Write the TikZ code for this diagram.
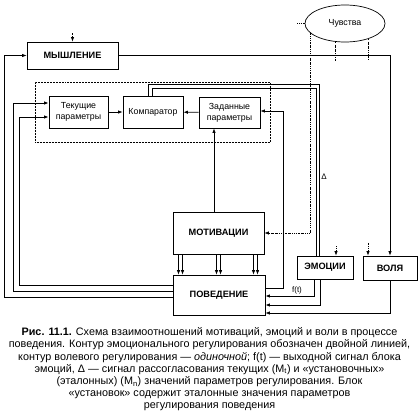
\documentclass[tikz,border=0pt]{standalone}
\usepackage{fontspec}
\setmainfont{Liberation Sans}
\usetikzlibrary{arrows.meta,shapes.geometric}

\begin{document}
\begin{tikzpicture}[x=1pt, y=-1pt, line width=0.7pt,
  >={Latex[length=4.5pt,width=3.4pt]},
  blk/.style={draw, font=\fontsize{9.2}{10}\selectfont\bfseries, inner sep=0pt},
  sml/.style={draw, font=\fontsize{8.8}{10.8}\selectfont, align=center, inner sep=0pt},
  dbl/.style={line width=1pt},
  sig/.style={dash pattern=on 1.6pt off 1.1pt on 0.5pt off 1.1pt},
  dotbox/.style={draw, densely dotted, line width=0.5pt, inner sep=0pt}]
\useasboundingbox (0,0) rectangle (419,412);
% blocks
\node[dotbox, minimum width=235pt, minimum height=60pt] (ust) at (152.5,112) {};
\node[blk, minimum width=91pt, minimum height=27pt] (myshl) at (72.5,55.5) {МЫШЛЕНИЕ};
\node[sml, minimum width=59pt, minimum height=32pt] (tek) at (78.5,112) {Текущие\\параметры};
\node[sml, minimum width=60pt, minimum height=32pt] (komp) at (153,112) {Компаратор};
\node[sml, minimum width=61pt, minimum height=31pt] (zad) at (229.5,112.5) {Заданные\\параметры};
\node[blk, minimum width=91pt, minimum height=42pt] (motiv) at (218.5,233) {МОТИВАЦИИ};
\node[blk, minimum width=92pt, minimum height=40pt] (povel) at (219,295) {ПОВЕДЕНИЕ};
\node[blk, minimum width=56pt, minimum height=23pt] (emoc) at (325,267.5) {ЭМОЦИИ};
\node[blk, minimum width=54pt, minimum height=24pt] (volya) at (390,268) {ВОЛЯ};
\node[draw, ellipse, inner sep=0pt, minimum width=80pt, minimum height=37pt,
  font=\fontsize{8.8}{10}\selectfont] (chuv) at (345,23.5) {Чувства};
% inside
\draw[->] (tek) -- (komp);
\draw[->] (zad) -- (komp);
\draw[->] ([xshift=-4.5pt]motiv.north) -- ([xshift=-4.5pt]motiv.north |- zad.south);
\foreach \dx in {-40,-36,-2,2,35,39}
  \draw[->] ([xshift=\dx pt]motiv.south) -- ([xshift=\dx pt]motiv.south |- povel.north);
\draw[->] ([yshift=7pt]povel.east) -- ++(18,0) |- ([yshift=1.5pt]zad.east);
% volevoj kontur
\draw[->] ([yshift=-2pt]povel.west) -- ++(-168,0) |- (myshl.west);
\draw[->] (myshl.east) -| (volya.north);
\draw[->] (volya.south) |- ([yshift=-18pt]povel.east);
% emocionalnyj kontur
\draw[dbl,->] ([yshift=4pt]povel.west) -- ++(-159,0) |- ([yshift=9pt]tek.west);
\draw[dbl,->] ([yshift=10pt]povel.west) -- ++(-153,0) |- ([yshift=-5pt]tek.west);
\draw[dbl] ([xshift=-5pt]komp.north) -- ++(0,-11) -| ([xshift=-6pt]emoc.north);
\draw[dbl] ([xshift=-1pt]komp.north) -- ++(0,-7) -| ([xshift=-9pt]emoc.north);
\draw[dbl,->] ([xshift=-11pt]emoc.south) |- ([yshift=-1pt]povel.east);
\draw[dbl,->] ([xshift=-5pt]emoc.south) |- ([yshift=-10pt]povel.east);
% chuvstva
\draw[sig,->] (chuv.196) |- (motiv.east);
\draw[sig] (chuv.west) -- ++(-8,0);
\draw[sig] (chuv.243) -- ++(0,19);
\draw[sig] (chuv.327) -- ++(0,20);
\draw[sig,<-] ([xshift=11pt]emoc.north) -- ++(0,-11);
\draw[sig,<-] ([xshift=-22pt]volya.north) -- ++(0,-13);
\draw[sig,<-] (myshl.north) -- ++(0,-9);
% labels
\node[font=\fontsize{8}{9}\selectfont] (ft) at (297,290) {f(t)};
\node[font=\fontsize{8}{9}\selectfont] (dlt) at (324,177) {Δ};
\node[anchor=north, align=center, font=\fontsize{10.8}{12.2}\selectfont] (cap) at (209.5,324)
  {\textbf{Рис. 11.1.} Схема взаимоотношений мотиваций, эмоций и воли в процессе\\
   поведения. Контур эмоционального регулирования обозначен двойной линией,\\
   контур волевого регулирования --- \textit{одиночной}; f(t) --- выходной сигнал блока\\
   эмоций, Δ --- сигнал рассогласования текущих (M\textsubscript{t}) и «установочных»\\
   (эталонных) (M\textsubscript{n}) значений параметров регулирования. Блок\\
   «установок» содержит эталонные значения параметров\\
   регулирования поведения};
\end{tikzpicture}
\end{document}
